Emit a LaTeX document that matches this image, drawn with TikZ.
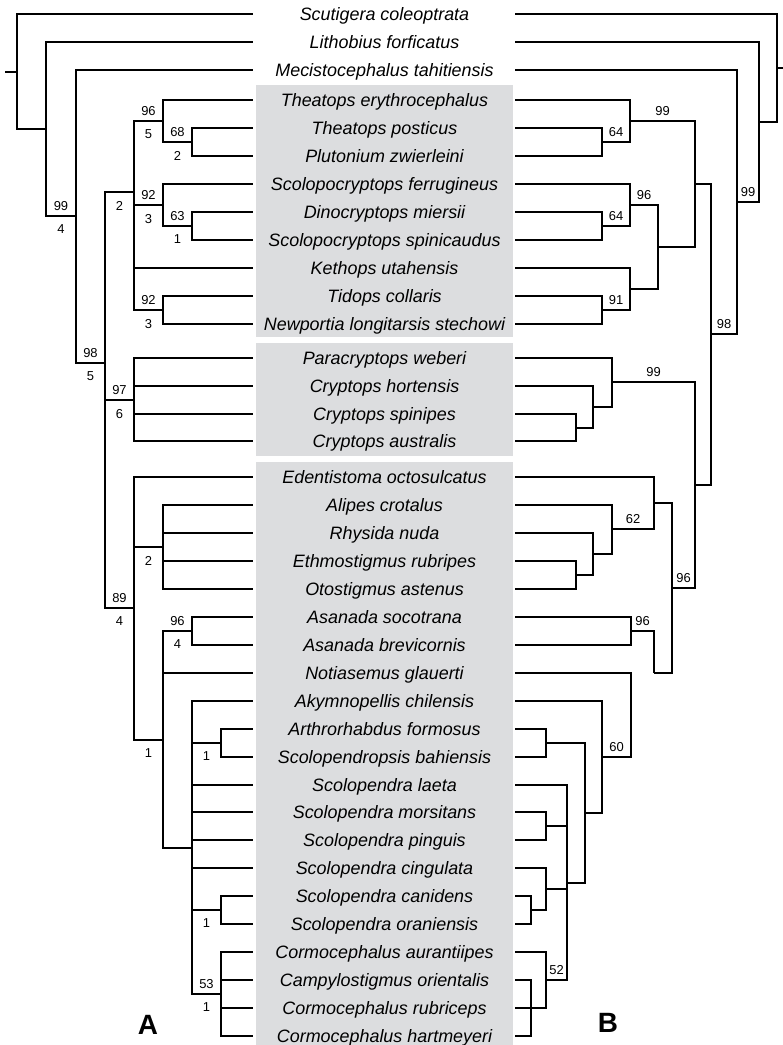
\documentclass[tikz,border=0pt]{standalone}
\usepackage{fontspec}
\setmainfont{Liberation Sans}
\definecolor{boxgray}{RGB}{220,221,223}
\tikzset{
    branch/.style = {line width=2bp, line join=miter},
    taxon/.style = {anchor=base, yshift=-6.4bp, inner sep=0pt,
                    font=\fontsize{18}{20}\selectfont\itshape},
    supup/.style = {pos=.75, above=3.5bp, inner sep=1pt,
                    font=\fontsize{13}{14}\selectfont},
    supdown/.style = {pos=.75, below=7bp, inner sep=1pt,
                      font=\fontsize{13}{14}\selectfont},
    panel/.style = {font=\fontsize{28}{30}\selectfont\bfseries}
}

\begin{document}
\begin{tikzpicture}[x=1bp, y=-1bp]
    \useasboundingbox (0,0) rectangle (783,1045);

    % grey boxes behind the taxa
    \fill[boxgray] (256,85) rectangle (513,337);
    \fill[boxgray] (256,343) rectangle (513,456);
    \fill[boxgray] (256,462) rectangle (513,1045);

    % taxa and leaf ends
    \foreach \i/\y/\taxon in {%
        1/14/Scutigera coleoptrata,
        2/42/Lithobius forficatus,
        3/70/Mecistocephalus tahitiensis,
        4/100/Theatops erythrocephalus,
        5/128/Theatops posticus,
        6/156/Plutonium zwierleini,
        7/184/Scolopocryptops ferrugineus,
        8/212/Dinocryptops miersii,
        9/240/Scolopocryptops spinicaudus,
        10/268/Kethops utahensis,
        11/296/Tidops collaris,
        12/324/Newportia longitarsis stechowi,
        13/358/Paracryptops weberi,
        14/386/Cryptops hortensis,
        15/414/Cryptops spinipes,
        16/441/Cryptops australis,
        17/477/Edentistoma octosulcatus,
        18/505/Alipes crotalus,
        19/533/Rhysida nuda,
        20/561/Ethmostigmus rubripes,
        21/589/Otostigmus astenus,
        22/617/Asanada socotrana,
        23/645/Asanada brevicornis,
        24/673/Notiasemus glauerti,
        25/701/Akymnopellis chilensis,
        26/729/Arthrorhabdus formosus,
        27/757/Scolopendropsis bahiensis,
        28/785/Scolopendra laeta,
        29/812/Scolopendra morsitans,
        30/840/Scolopendra pinguis,
        31/868/Scolopendra cingulata,
        32/896/Scolopendra canidens,
        33/924/Scolopendra oraniensis,
        34/952/Cormocephalus aurantiipes,
        35/980/Campylostigmus orientalis,
        36/1008/Cormocephalus rubriceps,
        37/1036/Cormocephalus hartmeyeri%
        }
        {
        \node[taxon] (t\i) at (384.5,\y) {\taxon};
        \coordinate (L\i) at (253,\y);
        \coordinate (R\i) at (515,\y);
        }

    % tree A nodes
    \coordinate (rootL) at (17,72);
    \coordinate (stubL) at (5,72);
    \foreach \n/\x/\y in {%
        aLith/46/129, a99/76/216, b98L/105/363,
        aTh/134/192, aCr/134/400, a89/134/608,
        a96/163/121, a68/192/142, a92a/163/205, a63/192/226, a92b/163/310,
        a2b/163/547, a1/163/740, a96b/192/631, a1b/192/848,
        a1c/221/743, a1d/221/910, a53/221/994%
        }
        \coordinate (\n) at (\x,\y);

    % tree B nodes
    \coordinate (rootR) at (777,68);
    \coordinate (stubR) at (783,68);
    \foreach \n/\x/\y in {%
        bLith/759/122, bMec/737/202, b98R/711/334,
        bTh/695/184, bTi/630/121, b64a/602/142,
        b96/658/247, b96in/630/205, b64b/602/226, b91x/630/289, b91/602/310,
        bX/695/485, c3/612/382, c2/593/407, c1/576/428,
        g/672/588, d3/654/503, d62/612/529, d2/593/554, d1/576/575,
        f/654/673, d96/631/631, ex/631/715, e60/602/757,
        e1/585/813, e2/546/743, e3/567/883, e4/546/826,
        e5/546/889, e6/531/910, e52/546/980, e7/531/1008%
        }
        \coordinate (\n) at (\x,\y);

    % roots
    \draw[branch] (stubL) -- (rootL);
    \draw[branch] (stubR) -- (rootR);

    % plain branches
    \foreach \p/\c in {%
        rootL/L1, rootL/aLith, aLith/L2, a99/L3,
        aTh/L10, a96/L4, a68/L5, a68/L6, a92a/L7, a63/L8, a63/L9,
        a92b/L11, a92b/L12,
        aCr/L13, aCr/L14, aCr/L15, aCr/L16,
        a89/L17, a2b/L18, a2b/L19, a2b/L20, a2b/L21,
        a96b/L22, a96b/L23, a1/L24, a1/a1b,
        a1b/L25, a1b/L28, a1b/L29, a1b/L30, a1b/L31,
        a1c/L26, a1c/L27, a1d/L32, a1d/L33,
        a53/L34, a53/L35, a53/L36, a53/L37,
        rootR/R1, rootR/bLith, bLith/R2, bMec/R3,
        b98R/bTh, b98R/bX, bTh/b96, bTi/R4, b64a/R5, b64a/R6,
        b96/b91x, b96in/R7, b64b/R8, b64b/R9,
        b91x/R10, b91/R11, b91/R12,
        c3/R13, c3/c2, c2/R14, c2/c1, c1/R15, c1/R16,
        g/d3, g/f, d3/R17, d62/R18, d62/d2, d2/R19, d2/d1, d1/R20, d1/R21,
        d96/R22, d96/R23, ex/R24, e60/R25, e60/e1,
        e1/e2, e1/e3, e2/R26, e2/R27,
        e3/R28, e3/e4, e3/e5, e4/R29, e4/R30,
        e5/R31, e5/e6, e6/R32, e6/R33,
        e52/R34, e52/R36, e52/e7, e7/R35, e7/R37%
        }
        \draw[branch] (\p) |- (\c);

    % branches with support values
    \foreach \p/\c/\Up/\Down in {%
        aLith/a99/99/4, a99/b98L/98/5,
        b98L/aTh/{}/2, b98L/aCr/97/6, b98L/a89/89/4,
        aTh/a96/96/5, aTh/a92a/92/3, aTh/a92b/92/3,
        a96/a68/68/2, a92a/a63/63/1,
        a89/a2b/{}/2, a89/a1/{}/1, a1/a96b/96/4,
        a1b/a1c/{}/1, a1b/a1d/{}/1, a1b/a53/53/1,
        bLith/bMec/99/{}, bMec/b98R/98/{},
        bTh/bTi/99/{}, bTi/b64a/64/{},
        b96/b96in/96/{}, b96in/b64b/64/{}, b91x/b91/91/{},
        bX/c3/99/{}, bX/g/96/{}, d3/d62/62/{},
        f/d96/96/{}, ex/e60/60/{}, e3/e52/52/{}%
        }
        \draw[branch] (\p) |- node[supup] {\Up} node[supdown] {\Down} (\c);

    % panel letters
    \node[panel] (A) at (148,1025) {A};
    \node[panel] (B) at (608,1023) {B};
\end{tikzpicture}
\end{document}
